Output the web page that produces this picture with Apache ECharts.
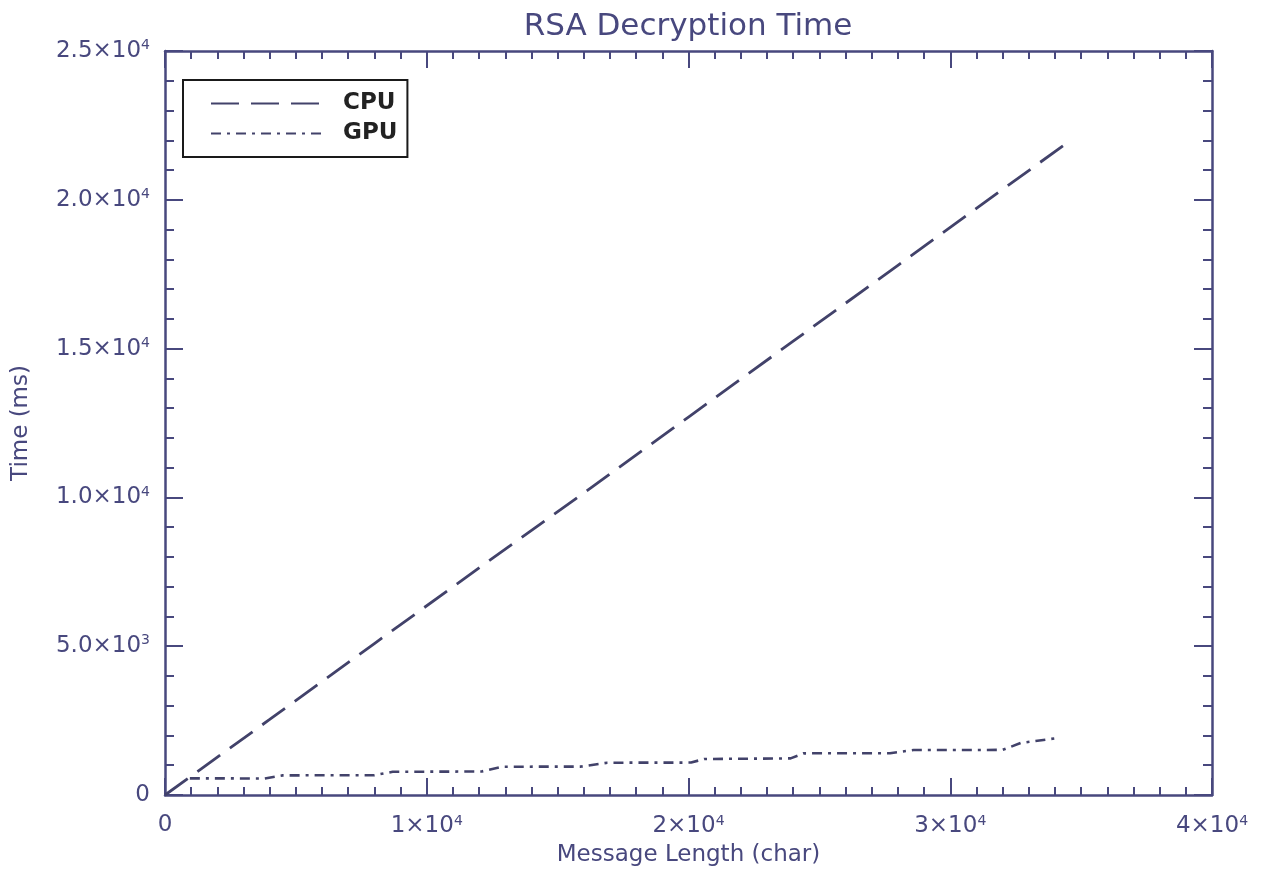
<!DOCTYPE html>
<html>
<head>
<meta charset="utf-8">
<script src="https://cdn.jsdelivr.net/npm/echarts@6/dist/echarts.min.js"></script>
<style>html,body{margin:0;padding:0;background:#ffffff}#c{width:1263px;height:874px}</style>
</head>
<body>
<div id="c"></div>
<script>
// ---- data ----
const cpuX = [0, 4000, 8000, 12000, 16000, 20000, 24000, 28000, 32000, 34460];
const cpuY = [0, 2540, 5090, 7630, 10150, 12700, 15250, 17800, 20350, 21910];
const gpuX = [950, 3800, 4500, 8000, 8700, 12100, 12900, 15900, 16900, 20100, 20600, 23900, 24400, 27700, 28600, 32000, 32700, 34200];
const gpuY = [560, 555, 660, 665, 780, 790, 950, 955, 1085, 1090, 1210, 1230, 1400, 1405, 1510, 1515, 1750, 1925];
const seriesNames = ['CPU', 'GPU'];
const xTickValues = [0, 10000, 20000, 30000, 40000];
const xTickBase = ['0', '1×10', '2×10', '3×10', '4×10'];
const xTickExp = ['', '4', '4', '4', '4'];
const yTickValues = [0, 5000, 10000, 15000, 20000, 25000];
const yTickBase = ['0', '5.0×10', '1.0×10', '1.5×10', '2.0×10', '2.5×10'];
const yTickExp = ['', '3', '4', '4', '4', '4'];
const titleText = 'RSA Decryption Time';
const xName = 'Message Length (char)';
const yName = 'Time (ms)';

// ---- styling ----
const INK = '#48487e';
const LINE = '#42426a';
const FONT = 'DejaVu Sans';
const rich = {
  b: { fontSize: 23, color: INK, fontFamily: FONT },
  s: { fontSize: 14, color: INK, fontFamily: FONT, padding: [0, 0, 11, 0] }
};
function fmt(values, bases, exps) {
  return function (v) {
    const i = values.indexOf(v);
    if (i < 0) return '';
    return exps[i] ? '{b|' + bases[i] + '}{s|' + exps[i] + '}' : '{b|' + bases[i] + '}';
  };
}
const axisLine = { show: true, onZero: false, lineStyle: { color: INK, width: 2.5 } };
const tickStyle = { color: INK, width: 2 };

function xAx(pos, labels) {
  return {
    type: 'value', position: pos, min: 0, max: 40000, interval: 10000,
    axisLine: axisLine,
    axisTick: { show: true, inside: true, length: 17, lineStyle: tickStyle },
    minorTick: { show: true, splitNumber: 10, length: 8, lineStyle: tickStyle },
    splitLine: { show: false }, minorSplitLine: { show: false },
    axisLabel: labels ? { show: true, margin: 19, formatter: fmt(xTickValues, xTickBase, xTickExp), rich: rich } : { show: false },
    name: labels ? xName : '', nameLocation: 'middle', nameGap: 49,
    nameTextStyle: { fontSize: 23, color: INK, fontFamily: FONT }
  };
}
function yAx(pos, labels) {
  return {
    type: 'value', position: pos, min: 0, max: 25000, interval: 5000,
    axisLine: axisLine,
    axisTick: { show: true, inside: true, length: 18, lineStyle: tickStyle },
    minorTick: { show: true, splitNumber: 5, length: 9, lineStyle: tickStyle },
    splitLine: { show: false }, minorSplitLine: { show: false },
    axisLabel: labels ? { show: true, margin: 15, formatter: fmt(yTickValues, yTickBase, yTickExp), rich: rich } : { show: false },
    name: labels ? yName : '', nameLocation: 'middle', nameGap: 132,
    nameTextStyle: { fontSize: 23, color: INK, fontFamily: FONT }
  };
}

const chart = echarts.init(document.getElementById('c'), null, { renderer: 'canvas' });
chart.setOption({
  animation: false,
  backgroundColor: '#ffffff',
  title: {
    text: titleText, left: 688, top: 11, textAlign: 'center', padding: 0,
    textStyle: { fontSize: 31, fontWeight: 'normal', color: INK, fontFamily: FONT }
  },
  legend: {
    orient: 'vertical', left: 183, top: 80,
    padding: [12, 10, 12, 27],
    itemWidth: 113, itemHeight: 14, itemGap: 7,
    borderColor: '#1a1a1a', borderWidth: 2,
    itemStyle: { opacity: 0 },
    data: seriesNames,
    textStyle: { fontSize: 23, fontWeight: 'bold', color: '#222222', fontFamily: FONT, padding: [0, 0, 0, 14] }
  },
  grid: { left: 165, right: 51, top: 51, bottom: 79, containLabel: false },
  xAxis: [xAx('bottom', true), xAx('top', false)],
  yAxis: [yAx('left', true), yAx('right', false)],
  series: [
    {
      name: seriesNames[0], type: 'line', xAxisIndex: 0, yAxisIndex: 0,
      symbol: 'none', showSymbol: false,
      data: cpuX.map((x, i) => [x, cpuY[i]]),
      lineStyle: { color: LINE, width: 2.8, type: [28, 12] },
      itemStyle: { color: LINE }
    },
    {
      name: seriesNames[1], type: 'line', xAxisIndex: 0, yAxisIndex: 0,
      symbol: 'none', showSymbol: false,
      data: gpuX.map((x, i) => [x, gpuY[i]]),
      lineStyle: { color: LINE, width: 2.6, type: [10, 6, 3, 6] },
      itemStyle: { color: LINE }
    }
  ]
});
</script>
</body>
</html>
